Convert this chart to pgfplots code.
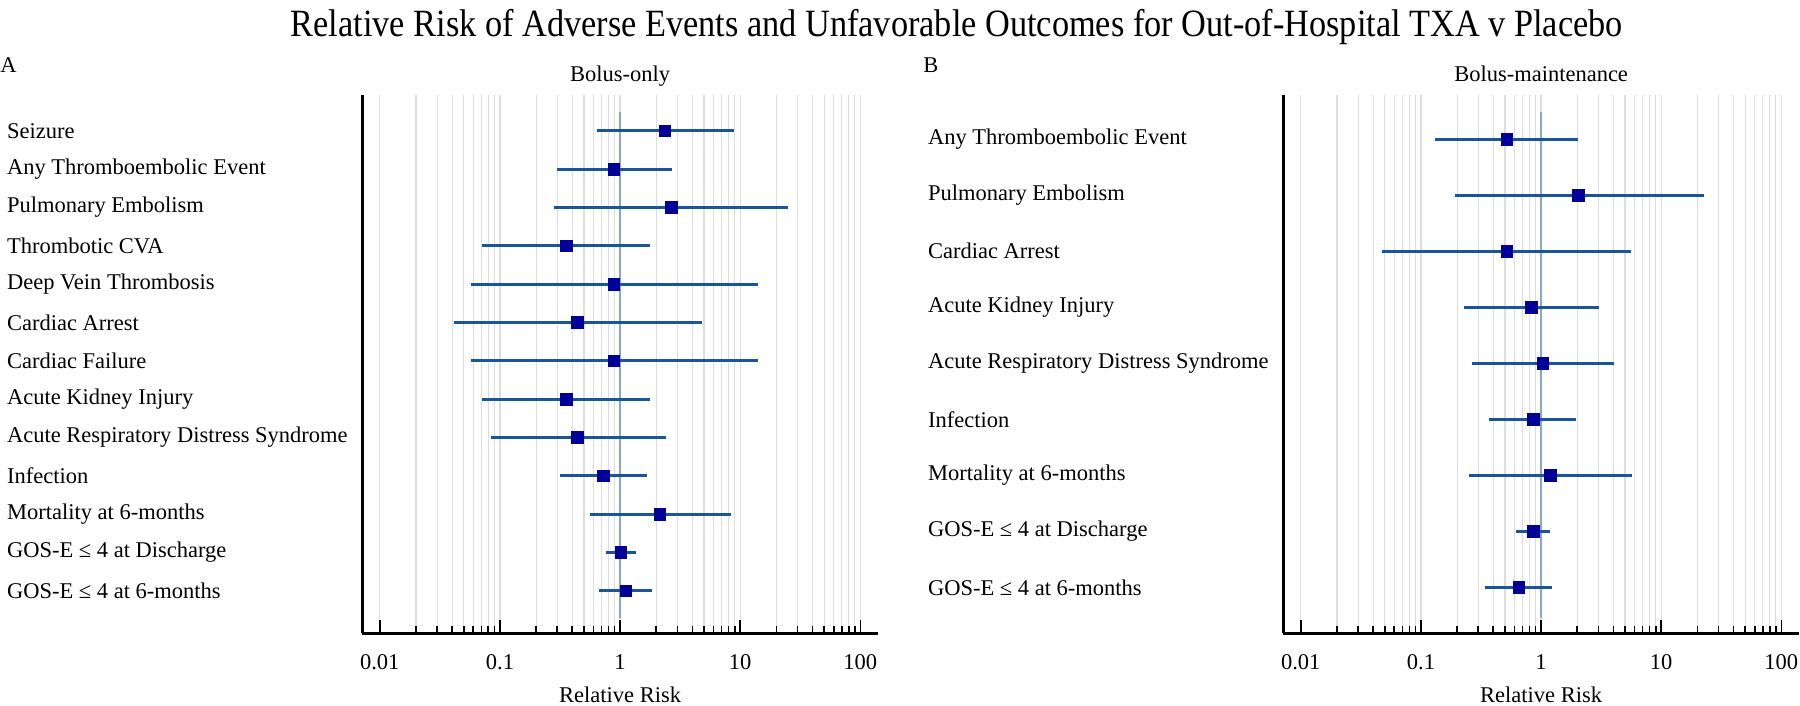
\documentclass[border=0pt]{standalone}
\usepackage{fontspec}
\setmainfont{Liberation Serif}
\usepackage{graphicx}
\usepackage{pgfplots}
\usepackage{pgfplotstable}
\pgfplotsset{compat=1.18}

\definecolor{cibar}{HTML}{1A559B}
\definecolor{ptc}{HTML}{000099}
\definecolor{refl}{HTML}{88A6CC}
\definecolor{gridc}{HTML}{DDDDDD}

% row, relative risk (point estimates)
\pgfplotstableread{
row rr
1  2.36
2  0.886
3  2.67
4  0.357
5  0.886
6  0.443
7  0.886
8  0.357
9  0.443
10 0.729
11 2.14
12 1.01
13 1.12
}\tableA

\pgfplotstableread{
row rr
1 0.518
2 2.05
3 0.518
4 0.829
5 1.03
6 0.857
7 1.19
8 0.857
9 0.651
}\tableB

\begin{document}
\fontsize{11.25pt}{13.5pt}\selectfont
\begin{tikzpicture}
\useasboundingbox (0,0) rectangle (900pt,353pt);

\node[anchor=base, inner sep=0pt] at (478.4pt,334.5pt)
  {\resizebox{666pt}{\height}{\fontsize{19.3pt}{23pt}\selectfont Relative Risk of Adverse Events and Unfavorable Outcomes for Out-of-Hospital TXA v Placebo}};
\node[anchor=base west, inner sep=0pt] at (0pt,316.5pt) {A};
\node[anchor=base west, inner sep=0pt] at (461.5pt,316.5pt) {B};

\begin{axis}[
    at={(181.15pt,36.5pt)}, anchor=south west,
    scale only axis, width=257.8pt, height=269pt,
    xmode=log, xmin=0.00715, xmax=140,
    y dir=reverse, ymin=0.069, ymax=14.10,
    axis x line*=bottom, axis y line*=left,
    axis line style={line width=1.5pt, black},
    xtick={0.01,0.1,1,10,100},
    xticklabels={0.01,0.1,1,10,100},
    minor xtick={0.02,0.03,0.04,0.05,0.06,0.07,0.08,0.09,0.2,0.3,0.4,0.5,0.6,0.7,0.8,0.9,2,3,4,5,6,7,8,9,20,30,40,50,60,70,80,90},
    xmajorgrids, xminorgrids,
    major grid style={gridc, line width=0.6pt},
    minor grid style={gridc, line width=0.6pt},
    tick align=inside,
    major tick style={black, line width=0.8pt},
    minor tick style={black, line width=0.8pt},
    major tick length=6.5pt, minor tick length=3.5pt,
    ytick={1,...,13},
    ytick style={draw=none},
    yticklabels={Seizure, Any Thromboembolic Event, Pulmonary Embolism, Thrombotic CVA, Deep Vein Thrombosis, Cardiac Arrest, Cardiac Failure, Acute Kidney Injury, Acute Respiratory Distress Syndrome, Infection, Mortality at 6-months, GOS-E ≤ 4 at Discharge, GOS-E ≤ 4 at 6-months},
    yticklabel style={anchor=west, xshift=-181.55pt},
    xticklabel style={anchor=base, yshift=-18.25pt},
    xlabel={Relative Risk},
    xlabel style={at={(axis description cs:0.5,0)}, anchor=base, yshift=-34.8pt},
    title={Bolus-only},
    title style={at={(axis description cs:0.5,1)}, anchor=base, yshift=0.6pt},
    clip=false,
  ]
\addplot[refl, line width=1pt] coordinates {(1,0.51) (1,13.71)};
\addplot[cibar, line width=1.5pt, unbounded coords=jump] coordinates {
 (0.646,1) (8.83,1) (nan,nan)
 (0.296,2) (2.70,2) (nan,nan)
 (0.284,3) (25.2,3) (nan,nan)
 (0.0713,4) (1.78,4) (nan,nan)
 (0.0575,5) (14.0,5) (nan,nan)
 (0.0413,6) (4.85,6) (nan,nan)
 (0.0575,7) (14.0,7) (nan,nan)
 (0.0713,8) (1.78,8) (nan,nan)
 (0.0838,9) (2.39,9) (nan,nan)
 (0.315,10) (1.69,10) (nan,nan)
 (0.557,11) (8.36,11) (nan,nan)
 (0.759,12) (1.35,12) (nan,nan)
 (0.673,13) (1.85,13)
};
\addplot[only marks, mark=square*, mark size=2.9pt,
  mark options={fill=ptc, draw=ptc, line width=0.3pt}]
  table[x=rr, y=row] {\tableA};
\end{axis}

\begin{axis}[
    at={(641.65pt,36.5pt)}, anchor=south west,
    scale only axis, width=257.8pt, height=269pt,
    xmode=log, xmin=0.00715, xmax=140,
    y dir=reverse, ymin=0.209, ymax=9.816,
    axis x line*=bottom, axis y line*=left,
    axis line style={line width=1.5pt, black},
    xtick={0.01,0.1,1,10,100},
    xticklabels={0.01,0.1,1,10,100},
    minor xtick={0.02,0.03,0.04,0.05,0.06,0.07,0.08,0.09,0.2,0.3,0.4,0.5,0.6,0.7,0.8,0.9,2,3,4,5,6,7,8,9,20,30,40,50,60,70,80,90},
    xmajorgrids, xminorgrids,
    major grid style={gridc, line width=0.6pt},
    minor grid style={gridc, line width=0.6pt},
    tick align=inside,
    major tick style={black, line width=0.8pt},
    minor tick style={black, line width=0.8pt},
    major tick length=6.5pt, minor tick length=3.5pt,
    ytick={1,...,9},
    ytick style={draw=none},
    yticklabels={Any Thromboembolic Event, Pulmonary Embolism, Cardiac Arrest, Acute Kidney Injury, Acute Respiratory Distress Syndrome, Infection, Mortality at 6-months, GOS-E ≤ 4 at Discharge, GOS-E ≤ 4 at 6-months},
    yticklabel style={anchor=west, xshift=-181.55pt},
    xticklabel style={anchor=base, yshift=-18.25pt},
    xlabel={Relative Risk},
    xlabel style={at={(axis description cs:0.5,0)}, anchor=base, yshift=-34.8pt},
    title={Bolus-maintenance},
    title style={at={(axis description cs:0.5,1)}, anchor=base, yshift=0.6pt},
    clip=false,
  ]
\addplot[refl, line width=1pt] coordinates {(1,0.51) (1,9.55)};
\addplot[cibar, line width=1.5pt, unbounded coords=jump] coordinates {
 (0.132,1) (2.01,1) (nan,nan)
 (0.193,2) (22.5,2) (nan,nan)
 (0.0473,3) (5.55,3) (nan,nan)
 (0.228,4) (3.01,4) (nan,nan)
 (0.266,5) (4.02,5) (nan,nan)
 (0.367,6) (1.96,6) (nan,nan)
 (0.249,7) (5.74,7) (nan,nan)
 (0.621,8) (1.19,8) (nan,nan)
 (0.343,9) (1.24,9)
};
\addplot[only marks, mark=square*, mark size=2.9pt,
  mark options={fill=ptc, draw=ptc, line width=0.3pt}]
  table[x=rr, y=row] {\tableB};
\end{axis}
\end{tikzpicture}
\end{document}
